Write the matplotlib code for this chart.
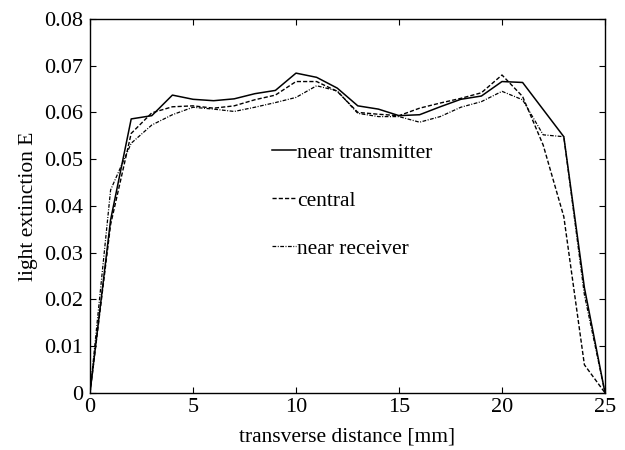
import matplotlib.pyplot as plt

plt.rcParams["font.family"] = ["Liberation Serif", "DejaVu Serif"]

# transverse distance [mm]
x = list(range(26))

# light extinction E, three measurement positions
near_transmitter = [0, 0.037, 0.0586, 0.0593, 0.0637, 0.0628, 0.0625, 0.0629, 0.0640, 0.0647,
                    0.0684, 0.0675, 0.0652, 0.0614, 0.0607, 0.0593, 0.0595, 0.0612, 0.0628,
                    0.0635, 0.0666, 0.0664, 0.0606, 0.0548, 0.0225, 0]
central = [0, 0.036, 0.0555, 0.0599, 0.0612, 0.0614, 0.0609, 0.0614, 0.0627, 0.0637,
           0.0666, 0.0666, 0.0645, 0.0600, 0.0596, 0.0593, 0.0609, 0.0620, 0.0630,
           0.0642, 0.0680, 0.0634, 0.0530, 0.0377, 0.0060, 0]
near_receiver = [0, 0.0434, 0.0534, 0.0573, 0.0595, 0.0611, 0.0607, 0.0602, 0.0611, 0.0621,
                 0.0632, 0.0657, 0.0646, 0.0598, 0.0591, 0.0591, 0.0579, 0.0591, 0.0611,
                 0.0623, 0.0645, 0.0627, 0.0552, 0.0548, 0.021, 0]

fig = plt.figure(figsize=(6.25, 4.5), dpi=100)
ax = fig.add_axes([0.144, 0.127, 0.824, 0.831])

ax.plot(x, near_transmitter, color="black", lw=1.1, label="near transmitter")
ax.plot(x, central, color="black", lw=1.0, dashes=(3, 1.5), label="central")
ax.plot(x, near_receiver, color="black", lw=0.9, dashes=(3, 1.2, 0.8, 1.2), label="near receiver")

ax.set_xlim(0, 25)
ax.set_ylim(0, 0.08)
ax.set_xticks([0, 5, 10, 15, 20, 25])
ax.set_yticks([0, 0.01, 0.02, 0.03, 0.04, 0.05, 0.06, 0.07, 0.08])
ax.set_yticklabels(["0", "0.01", "0.02", "0.03", "0.04", "0.05", "0.06", "0.07", "0.08"])
ax.tick_params(direction="in", top=True, right=True, length=4.5, labelsize=16)
ax.tick_params(axis="y", pad=5)
ax.tick_params(axis="x", pad=4)
for s in ax.spines.values():
    s.set_linewidth(1.0)

ax.set_xlabel("transverse distance [mm]", fontsize=15.5, labelpad=7)
ax.set_ylabel("light extinction E", fontsize=15.5, labelpad=4)

ax.legend(loc="upper left", bbox_to_anchor=(0.333, 0.698), frameon=False,
          handlelength=1.1, handletextpad=0.05, labelspacing=1.3, fontsize=15.5,
          borderpad=0)

plt.savefig("out.png")
plt.close()
